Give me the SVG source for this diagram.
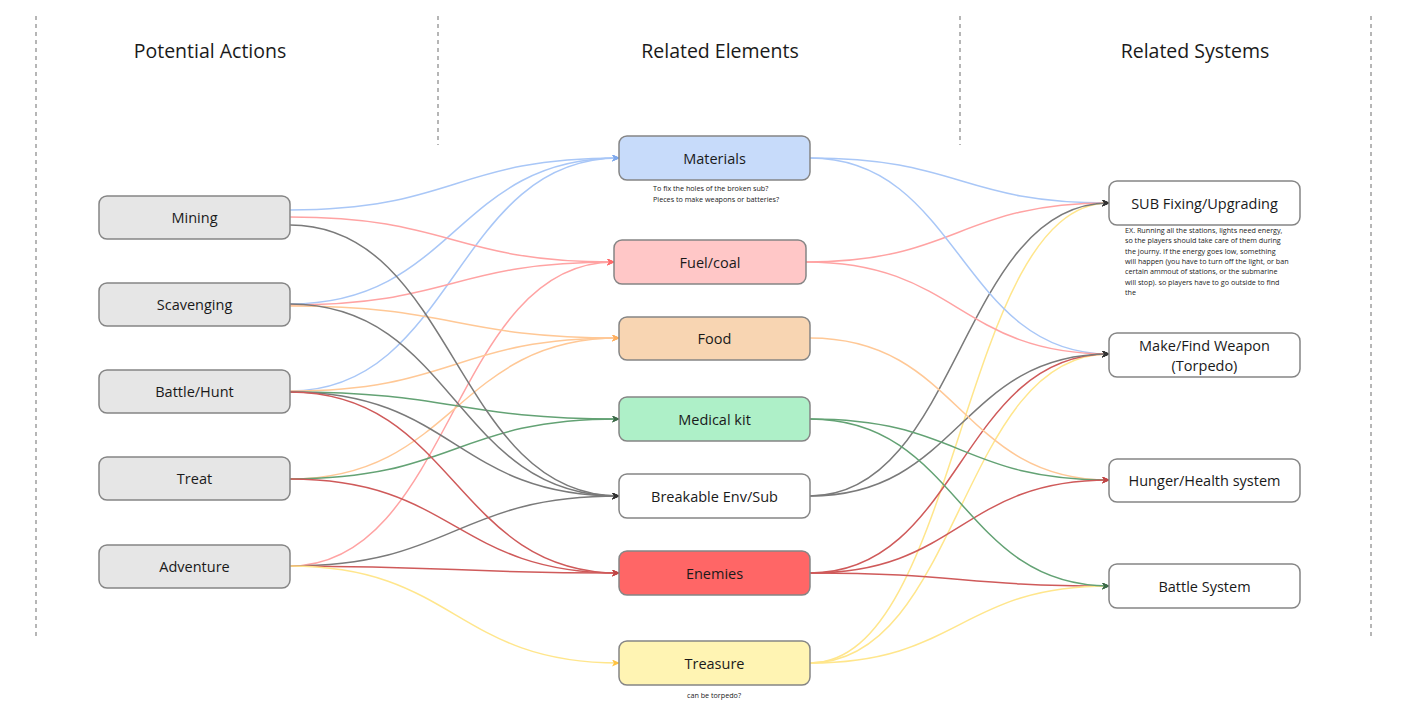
<svg xmlns="http://www.w3.org/2000/svg" width="1415" height="716" viewBox="0 0 1415 716">
<style>
.bg{fill:#ffffff}
.div{stroke:#9e9e9e;stroke-width:1.5;stroke-dasharray:4 4;fill:none}
.hd{font-family:"Open Sans","Noto Sans",sans-serif;font-size:19.5px;fill:#1a1a1a;text-anchor:middle}
.nb{stroke:#858585;stroke-width:1.5}
.lbl{font-family:"Open Sans","Noto Sans",sans-serif;font-size:14.5px;fill:#1a1a1a;text-anchor:middle;dominant-baseline:central}
.note{font-family:"Open Sans","Noto Sans",sans-serif;font-size:7.2px;fill:#222222}
.e{fill:none;stroke-width:1.5}
.bl{stroke:#a9c7f7}
.pk{stroke:#ffa3a3}
.or{stroke:#ffc896}
.gn{stroke:#63a274}
.gy{stroke:#7a7a7a}
.rd{stroke:#cf5a5a}
.yl{stroke:#ffe68c}
</style>
<defs>
<marker id="aBlue" viewBox="0 0 8 7" refX="7" refY="3.5" markerWidth="8" markerHeight="7" markerUnits="userSpaceOnUse" orient="auto"><path d="M0,0 L8,3.5 L0,7 L2,3.5 z" fill="#7fa9ec"/></marker>
<marker id="aPink" viewBox="0 0 8 7" refX="7" refY="3.5" markerWidth="8" markerHeight="7" markerUnits="userSpaceOnUse" orient="auto"><path d="M0,0 L8,3.5 L0,7 L2,3.5 z" fill="#ff6b6b"/></marker>
<marker id="aOrange" viewBox="0 0 8 7" refX="7" refY="3.5" markerWidth="8" markerHeight="7" markerUnits="userSpaceOnUse" orient="auto"><path d="M0,0 L8,3.5 L0,7 L2,3.5 z" fill="#ffb060"/></marker>
<marker id="aGreen" viewBox="0 0 8 7" refX="7" refY="3.5" markerWidth="8" markerHeight="7" markerUnits="userSpaceOnUse" orient="auto"><path d="M0,0 L8,3.5 L0,7 L2,3.5 z" fill="#3d6a49"/></marker>
<marker id="aDark" viewBox="0 0 8 7" refX="7" refY="3.5" markerWidth="8" markerHeight="7" markerUnits="userSpaceOnUse" orient="auto"><path d="M0,0 L8,3.5 L0,7 L2,3.5 z" fill="#333333"/></marker>
<marker id="aRed" viewBox="0 0 8 7" refX="7" refY="3.5" markerWidth="8" markerHeight="7" markerUnits="userSpaceOnUse" orient="auto"><path d="M0,0 L8,3.5 L0,7 L2,3.5 z" fill="#c04545"/></marker>
<marker id="aYellow" viewBox="0 0 8 7" refX="7" refY="3.5" markerWidth="8" markerHeight="7" markerUnits="userSpaceOnUse" orient="auto"><path d="M0,0 L8,3.5 L0,7 L2,3.5 z" fill="#ffc240"/></marker>
</defs>
<rect class="bg" x="0" y="0" width="1415" height="716"/>
<g id="dividers">
<line class="div" x1="36" y1="16" x2="36" y2="636"/>
<line class="div" x1="438" y1="16" x2="438" y2="145"/>
<line class="div" x1="960" y1="16" x2="960" y2="145"/>
<line class="div" x1="1371" y1="16" x2="1371" y2="636"/>
</g>
<g id="headers">
<text class="hd" x="210" y="58">Potential Actions</text>
<text class="hd" x="720" y="58">Related Elements</text>
<text class="hd" x="1195" y="58">Related Systems</text>
</g>
<g id="connectors">
<path class="e bl" d="M290,210 C455,210 455,158 619,158" marker-end="url(#aBlue)"/>
<path class="e bl" d="M290,304 C455,304 455,158 619,158" marker-end="url(#aBlue)"/>
<path class="e bl" d="M290,391 C455,391 455,158 619,158" marker-end="url(#aBlue)"/>
<path class="e pk" d="M290,217 C452,217 452,262 614,262" marker-end="url(#aPink)"/>
<path class="e pk" d="M290,305 C452,305 452,262 614,262" marker-end="url(#aPink)"/>
<path class="e pk" d="M290,566 C452,566 452,262 614,262" marker-end="url(#aPink)"/>
<path class="e or" d="M290,306 C455,306 455,338 619,338" marker-end="url(#aOrange)"/>
<path class="e or" d="M290,391 C455,391 455,338 619,338" marker-end="url(#aOrange)"/>
<path class="e or" d="M290,479 C455,479 455,338 619,338" marker-end="url(#aOrange)"/>
<path class="e gn" d="M290,392 C455,392 455,419 619,419" marker-end="url(#aGreen)"/>
<path class="e gn" d="M290,479 C455,479 455,419 619,419" marker-end="url(#aGreen)"/>
<path class="e gy" d="M290,225 C455,225 455,496 619,496" marker-end="url(#aDark)"/>
<path class="e gy" d="M290,304 C455,304 455,496 619,496" marker-end="url(#aDark)"/>
<path class="e gy" d="M290,392 C455,392 455,496 619,496" marker-end="url(#aDark)"/>
<path class="e gy" d="M290,566 C455,566 455,496 619,496" marker-end="url(#aDark)"/>
<path class="e rd" d="M290,392 C455,392 455,573 619,573" marker-end="url(#aRed)"/>
<path class="e rd" d="M290,479 C455,479 455,573 619,573" marker-end="url(#aRed)"/>
<path class="e rd" d="M290,566 C455,566 455,573 619,573" marker-end="url(#aRed)"/>
<path class="e yl" d="M290,566 C455,566 455,663 619,663" marker-end="url(#aYellow)"/>
<path class="e bl" d="M810,158 C960,158 960,203 1109,203" marker-end="url(#aDark)"/>
<path class="e pk" d="M806,262 C958,262 958,203 1109,203" marker-end="url(#aDark)"/>
<path class="e yl" d="M810,663 C960,663 960,203 1109,203" marker-end="url(#aDark)"/>
<path class="e gy" d="M810,496 C960,496 960,203 1109,203" marker-end="url(#aDark)"/>
<path class="e bl" d="M810,158 C960,158 960,354 1109,354" marker-end="url(#aDark)"/>
<path class="e pk" d="M806,262 C958,262 958,354 1109,354" marker-end="url(#aDark)"/>
<path class="e yl" d="M810,663 C960,663 960,354 1109,354" marker-end="url(#aDark)"/>
<path class="e rd" d="M810,573 C960,573 960,354 1109,354" marker-end="url(#aDark)"/>
<path class="e gy" d="M810,496 C960,496 960,354 1109,354" marker-end="url(#aDark)"/>
<path class="e or" d="M810,338 C960,338 960,480 1109,480" marker-end="url(#aRed)"/>
<path class="e gn" d="M810,419 C960,419 960,480 1109,480" marker-end="url(#aRed)"/>
<path class="e rd" d="M810,573 C960,573 960,480 1109,480" marker-end="url(#aRed)"/>
<path class="e rd" d="M810,573 C960,573 960,586 1109,586" marker-end="url(#aGreen)"/>
<path class="e yl" d="M810,663 C960,663 960,586 1109,586" marker-end="url(#aGreen)"/>
<path class="e gn" d="M810,419 C960,419 960,586 1109,586" marker-end="url(#aGreen)"/>
</g>
<g id="mining"><rect class="nb" x="99" y="196" width="191" height="43" rx="8" fill="#e6e6e6"/><text class="lbl" x="194.5" y="217.5">Mining</text></g>
<g id="scavenging"><rect class="nb" x="99" y="283" width="191" height="43" rx="8" fill="#e6e6e6"/><text class="lbl" x="194.5" y="304.5">Scavenging</text></g>
<g id="battle-hunt"><rect class="nb" x="99" y="370" width="191" height="43" rx="8" fill="#e6e6e6"/><text class="lbl" x="194.5" y="391.5">Battle/Hunt</text></g>
<g id="treat"><rect class="nb" x="99" y="457" width="191" height="43" rx="8" fill="#e6e6e6"/><text class="lbl" x="194.5" y="478.5">Treat</text></g>
<g id="adventure"><rect class="nb" x="99" y="545" width="191" height="43" rx="8" fill="#e6e6e6"/><text class="lbl" x="194.5" y="566.5">Adventure</text></g>
<g id="materials"><rect class="nb" x="619" y="136" width="191" height="44" rx="8" fill="#c7dbfa"/><text class="lbl" x="714.5" y="158">Materials</text>
<text class="note" x="653" y="191">To fix the holes of the broken sub?</text><text class="note" x="653" y="202">Pieces to make weapons or batteries?</text></g>
<g id="fuel-coal"><rect class="nb" x="614" y="240" width="192" height="44" rx="8" fill="#ffc7c7"/><text class="lbl" x="710" y="262">Fuel/coal</text></g>
<g id="food"><rect class="nb" x="619" y="317" width="191" height="43" rx="8" fill="#f8d5b2"/><text class="lbl" x="714.5" y="338.5">Food</text></g>
<g id="medical-kit"><rect class="nb" x="619" y="397" width="191" height="44" rx="8" fill="#aef0c8"/><text class="lbl" x="714.5" y="419">Medical kit</text></g>
<g id="breakable"><rect class="nb" x="619" y="474" width="191" height="44" rx="8" fill="#ffffff"/><text class="lbl" x="714.5" y="496">Breakable Env/Sub</text></g>
<g id="enemies"><rect class="nb" x="619" y="551" width="191" height="44" rx="8" fill="#ff6666"/><text class="lbl" x="714.5" y="573">Enemies</text></g>
<g id="treasure"><rect class="nb" x="619" y="641" width="191" height="44" rx="8" fill="#fff4b3"/><text class="lbl" x="714.5" y="663">Treasure</text>
<text class="note" x="714" y="698" text-anchor="middle">can be torpedo?</text></g>
<g id="sub-fixing"><rect class="nb" x="1109" y="181" width="191" height="44" rx="8" fill="#ffffff"/><text class="lbl" x="1204.5" y="203">SUB Fixing/Upgrading</text>
<text class="note" x="1125" y="233">EX. Running all the stations, lights need energy,</text>
<text class="note" x="1125" y="243.3">so the players should take care of them during</text>
<text class="note" x="1125" y="253.6">the journy. If the energy goes low, something</text>
<text class="note" x="1125" y="263.9">will happen (you have to turn off the light, or ban</text>
<text class="note" x="1125" y="274.2">certain ammout of stations, or the submarine</text>
<text class="note" x="1125" y="284.5">will stop). so players have to go outside to find</text>
<text class="note" x="1125" y="294.8">the</text></g>
<g id="weapon"><rect class="nb" x="1109" y="333" width="191" height="44" rx="8" fill="#ffffff"/><text class="lbl" x="1204.5" y="345">Make/Find Weapon</text><text class="lbl" x="1204.5" y="365">(Torpedo)</text></g>
<g id="hunger-health"><rect class="nb" x="1109" y="459" width="191" height="43" rx="8" fill="#ffffff"/><text class="lbl" x="1204.5" y="480.5">Hunger/Health system</text></g>
<g id="battle-system"><rect class="nb" x="1109" y="564" width="191" height="44" rx="8" fill="#ffffff"/><text class="lbl" x="1204.5" y="586">Battle System</text></g>
</svg>
